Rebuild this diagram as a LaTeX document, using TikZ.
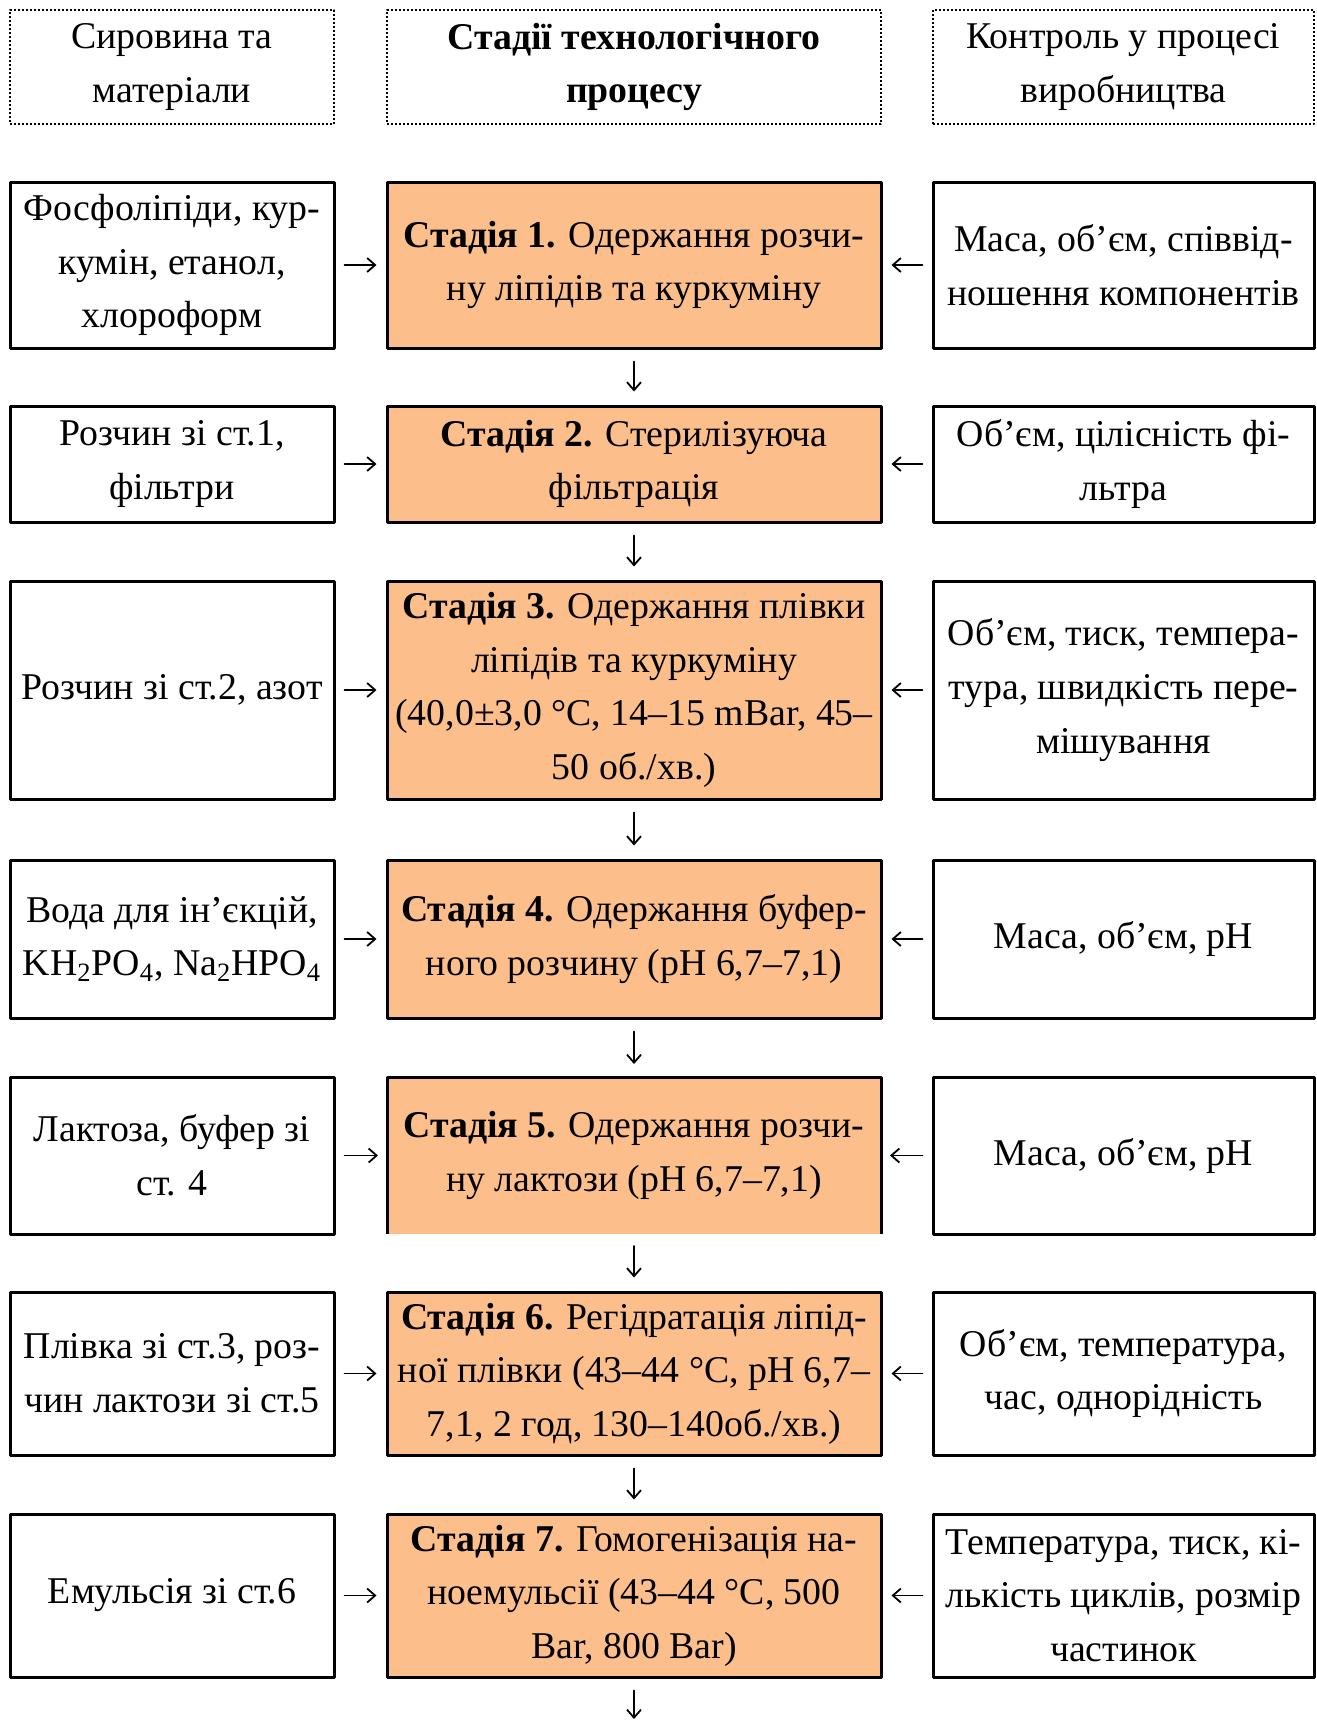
\documentclass[tikz,border=0pt]{standalone}
\usepackage{fontspec}
\setmainfont{Liberation Serif}
\usetikzlibrary{arrows.meta}
\definecolor{stagefill}{HTML}{FCBE8A}

\begin{document}
\begin{tikzpicture}[x=0.5pt, y=-0.5pt, line join=round, line cap=round,
	font=\fontsize{18.9pt}{26.8pt}\selectfont,
	>={Straight Barb[length=4pt, width=7pt]},
	head/.style={draw, line width=1pt, line cap=butt, dash pattern=on 1pt off 1pt, inner sep=0pt, align=center, minimum height=57pt},
	box/.style={draw, line width=1.5pt, inner sep=0pt, align=center},
	stage/.style={box, fill=stagefill},
	lcol/.style={minimum width=162pt},
	ccol/.style={minimum width=247pt},
	rcol/.style={minimum width=190.5pt},
	link/.style={->, line width=0.9pt},
	across/.style={link, shorten <=4.5pt, shorten >=4.5pt},
	down/.style={link, shorten <=6pt, shorten >=6.5pt}]
	\useasboundingbox (0,0) rectangle (1317,1720);
	% headers
	\node[head, lcol] (hm) at (172,67) {Сировина та\\матеріали};
	\node[head, ccol, font=\fontsize{18.9pt}{26.8pt}\selectfont\bfseries] (hs) at (634,67) {Стадії технологічного\\процесу};
	\node[head, rcol] (hk) at (1123.5,67) {Контроль у процесі\\виробництва};
	% row 1
	\node[box, lcol, minimum height=83pt] (m1) at (172,265) {Фосфоліпіди, кур-\\кумін, етанол,\\хлороформ};
	\node[stage, ccol, minimum height=83pt] (s1) at (634,265) {\textbf{Стадія 1.} Одержання розчи-\\ну ліпідів та куркуміну};
	\node[box, rcol, minimum height=83pt] (k1) at (1123.5,265) {Маса, об’єм, співвід-\\ношення компонентів};
	% row 2
	\node[box, lcol, minimum height=58pt] (m2) at (172,464) {Розчин зі ст.1,\\фільтри};
	\node[stage, ccol, minimum height=58pt] (s2) at (634,464) {\textbf{Стадія 2.} Стерилізуюча\\фільтрація};
	\node[box, rcol, minimum height=58pt] (k2) at (1123.5,464) {Об’єм, цілісність фі-\\льтра};
	% row 3
	\node[box, lcol, minimum height=109pt] (m3) at (172,690) {Розчин зі ст.2, азот};
	\node[stage, ccol, minimum height=109pt] (s3) at (634,690) {\textbf{Стадія 3.} Одержання плівки\\ліпідів та куркуміну\\(40,0±3,0 °C, 14–15 mBar, 45–\\50 об./хв.)};
	\node[box, rcol, minimum height=109pt] (k3) at (1123.5,690) {Об’єм, тиск, темпера-\\тура, швидкість пере-\\мішування};
	% row 4
	\node[box, lcol, minimum height=79pt] (m4) at (172,939) {Вода для ін’єкцій,\\KH\textsubscript{2}PO\textsubscript{4}, Na\textsubscript{2}HPO\textsubscript{4}};
	\node[stage, ccol, minimum height=79pt] (s4) at (634,939) {\textbf{Стадія 4.} Одержання буфер-\\ного розчину (рН 6,7–7,1)};
	\node[box, rcol, minimum height=79pt] (k4) at (1123.5,939) {Маса, об’єм, рН};
	% row 5
	\node[box, lcol, minimum height=78.5pt] (m5) at (172,1155.5) {Лактоза, буфер зі\\ст. 4};
	\node[stage, ccol, draw=none, outer sep=0pt, minimum height=78.5pt] (s5) at (634,1155.5) {\textbf{Стадія 5.} Одержання розчи-\\ну лактози (рН 6,7–7,1)};
	\draw[line width=1.5pt, line cap=butt] (s5.south west) |- (s5.north east) -- (s5.south east);
	\node[box, rcol, minimum height=78.5pt] (k5) at (1123.5,1155.5) {Маса, об’єм, рН};
	% row 6
	\node[box, lcol, minimum height=81.5pt] (m6) at (172,1373.5) {Плівка зі ст.3, роз-\\чин лактози зі ст.5};
	\node[stage, ccol, minimum height=81.5pt] (s6) at (634,1373.5) {\textbf{Стадія 6.} Регідратація ліпід-\\ної плівки (43–44 °C, рН 6,7–\\7,1, 2 год, 130–140об./хв.)};
	\node[box, rcol, minimum height=81.5pt] (k6) at (1123.5,1373.5) {Об’єм, температура,\\час, однорідність};
	% row 7
	\node[box, lcol, minimum height=81.5pt] (m7) at (172,1595.5) {Емульсія зі ст.6};
	\node[stage, ccol, minimum height=81.5pt] (s7) at (634,1595.5) {\textbf{Стадія 7.} Гомогенізація на-\\ноемульсії (43–44 °C, 500\\Bar, 800 Bar)};
	\node[box, rcol, minimum height=81.5pt] (k7) at (1123.5,1595.5) {Температура, тиск, кі-\\лькість циклів, розмір\\частинок};
	\coordinate (fin) at (634,1732);
	% arrows
	\draw[across] (m1) -- (s1);
	\draw[across] (k1) -- (s1);
	\draw[across] (m2) -- (s2);
	\draw[across] (k2) -- (s2);
	\draw[across] (m3) -- (s3);
	\draw[across] (k3) -- (s3);
	\draw[across] (m4) -- (s4);
	\draw[across] (k4) -- (s4);
	\draw[across] (m5) -- (s5);
	\draw[across] (k5) -- (s5);
	\draw[across] (m6) -- (s6);
	\draw[across] (k6) -- (s6);
	\draw[across] (m7) -- (s7);
	\draw[across] (k7) -- (s7);
	\draw[down] (s1) -- (s2);
	\draw[down] (s2) -- (s3);
	\draw[down] (s3) -- (s4);
	\draw[down] (s4) -- (s5);
	\draw[down] (s5) -- (s6);
	\draw[down] (s6) -- (s7);
	\draw[down] (s7) -- (fin);
\end{tikzpicture}
\end{document}
